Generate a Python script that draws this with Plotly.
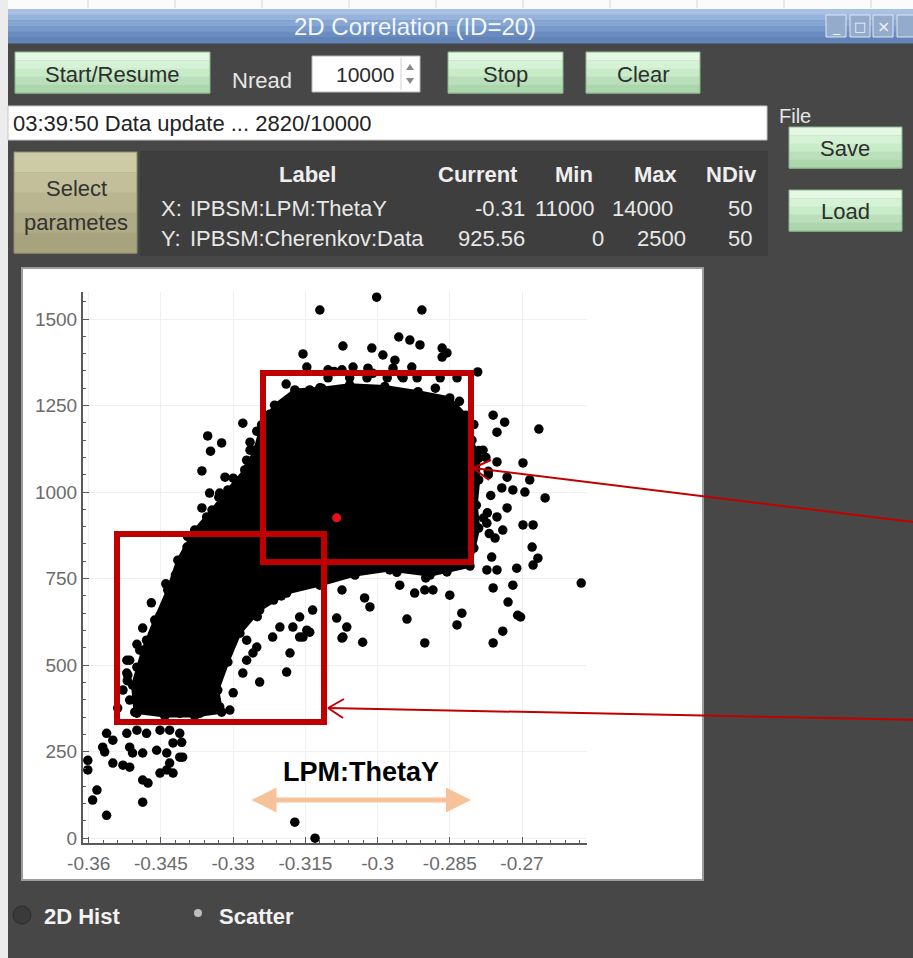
import plotly.graph_objects as go

# ---------------- data ----------------
# outline of the fully black (saturated) region of the scatter cloud
core_x = [-0.3504, -0.3509, -0.3488, -0.3463, -0.3436, -0.3415, -0.3380, -0.3344, -0.3311,
          -0.3276, -0.3255, -0.3241, -0.3214, -0.3172, -0.3116, -0.3058, -0.2985, -0.2916, -0.2850,
          -0.2817, -0.2804, -0.2790, -0.2790, -0.2795, -0.2790, -0.2800, -0.2808, -0.2891, -0.2975,
          -0.3047, -0.3120, -0.3189, -0.3245, -0.3286, -0.3311, -0.3332, -0.3324, -0.3380, -0.3442]
core_y = [364, 442, 543, 630, 717, 803, 890, 948, 1006,
          1064, 1121, 1194, 1251, 1295, 1300, 1310, 1305, 1290, 1272,
          1222, 1150, 1098, 1035, 962, 896, 838, 786, 760, 775,
          760, 731, 708, 659, 592, 509, 428, 364, 353, 353]

# individual (resolvable) scatter points
pts_x = [-0.3120, -0.3072, -0.3155, -0.3147, -0.3103, -0.3074, -0.3051, -0.3168, -0.3141, -0.3120,
         -0.3224, -0.3197, -0.3280, -0.3251, -0.3353, -0.3324, -0.3347, -0.3265, -0.3265, -0.3270,
         -0.3272, -0.3365, -0.3317, -0.3292, -0.3349, -0.3365, -0.3355, -0.3328, -0.3307, -0.3411,
         -0.3396, -0.3384,
         -0.3002, -0.2908, -0.3012, -0.2989, -0.2956, -0.2933, -0.2912, -0.2866, -0.2856, -0.2866,
         -0.2964, -0.2929, -0.2792, -0.2760, -0.2736, -0.2752, -0.2665, -0.2781, -0.2752, -0.2698,
         -0.2731, -0.2684, -0.2742, -0.2719, -0.2694, -0.2652, -0.2731, -0.2752, -0.2773, -0.2698,
         -0.2677, -0.2740, -0.2756, -0.2679, -0.2667, -0.2677, -0.2763, -0.2773, -0.2752, -0.2711,
         -0.2856, -0.2577,
         -0.2954, -0.2923, -0.2902, -0.2885, -0.2850, -0.2760, -0.2719, -0.2729, -0.2825, -0.2835,
         -0.2939, -0.2709, -0.2703, -0.2740, -0.2760, -0.2902, -0.3031, -0.3072, -0.3016, -0.3027,
         -0.3064,
         -0.3074, -0.3085, -0.3074, -0.3135, -0.3162, -0.3141, -0.3155, -0.3176, -0.3182, -0.3189,
         -0.3245, -0.3272, -0.3280, -0.3259, -0.3216,
         -0.3563, -0.3571, -0.3550, -0.3521, -0.3500, -0.3480, -0.3452, -0.3432, -0.3411, -0.3425,
         -0.3515, -0.3488, -0.3509, -0.3550, -0.3529, -0.3515, -0.3459, -0.3438, -0.3411, -0.3432,
         -0.3438, -0.3452, -0.3425, -0.3488, -0.3477, -0.3602, -0.3602, -0.3583, -0.3592, -0.3563,
         -0.3488, -0.3405, -0.3407, -0.3567, -0.3172, -0.3130,
         -0.3515, -0.3494, -0.3480, -0.3459, -0.3446, -0.3432, -0.3488, -0.3519, -0.3529, -0.3540,
         -0.3190, -0.3090, -0.3010, -0.2950, -0.2880, -0.2830, -0.2800, -0.2790, -0.2770, -0.2780,
         -0.3300, -0.3330, -0.3360, -0.3395, -0.3420, -0.3440, -0.3470, -0.3500, -0.3520, -0.3340,
         -0.3300, -0.3250, -0.3200, -0.2900, -0.2960,
         -0.3452, -0.3473, -0.3521, -0.3521, -0.3500, -0.3459, -0.3480, -0.3438, -0.3459, -0.3500,
         -0.3515, -0.3411, -0.3369, -0.3328, -0.3307, -0.3432, -0.3417, -0.3473, -0.3438, -0.3396,
         -0.3494, -0.3417, -0.3446, -0.3488, -0.3272, -0.3251, -0.3162, -0.3147, -0.3203, -0.3218,
         -0.3020, -0.2968, -0.3103, -0.3058, -0.3022, -0.2980, -0.2947, -0.2918, -0.2870, -0.2835,
         -0.2775, -0.2770, -0.2765, -0.2772, -0.2768]
pts_y = [1526, 1422, 1399, 1361, 1353, 1353, 1361, 1280, 1295, 1301,
         1225, 1228, 1199, 1176, 1162, 1142, 1118, 1144, 1121, 1069,
         1092, 1061, 1043, 1029, 997, 954, 928, 997, 977, 803,
         841, 853,
         1563, 1526, 1416, 1396, 1448, 1439, 1425, 1416, 1402, 1390,
         1381, 1361, 1347, 1222, 1202, 1173, 1182, 1121, 1087, 1084,
         1043, 1035, 1012, 1006, 1000, 983, 954, 928, 910, 905,
         905, 890, 867, 841, 809, 789, 812, 775, 775, 780,
         769, 737,
         731, 708, 717, 717, 702, 723, 731, 682, 650, 616,
         633, 644, 639, 598, 564, 564, 566, 581, 668, 694,
         610,
         717, 636, 578, 659, 639, 595, 581, 610, 535, 480,
         451, 514, 477, 535, 688,
         303, 263, 283, 303, 312, 303, 312, 312, 303, 275,
         263, 246, 246, 217, 211, 205, 254, 246, 234, 217,
         197, 188, 188, 168, 159, 225, 197, 139, 110, 66,
         104, 234, 277, 249, 46, 0,
         514, 543, 572, 601, 630, 659, 607, 471, 428, 376,
         1312, 1348, 1343, 1335, 1300, 1262, 1195, 1120, 1060, 925,
         1040, 985, 905, 872, 760, 735, 680, 560, 455, 400,
         420, 640, 700, 752, 768,
         644, 564, 514, 477, 494, 494, 436, 436, 379, 361,
         399, 361, 361, 379, 370, 564, 523, 399, 390, 399,
         407, 477, 523, 477, 572, 552, 581, 601, 610, 581,
         1358, 1358, 1330, 1330, 1330, 1330, 1330, 1330, 1330, 1330,
         1100, 1050, 990, 940, 880]

current_x = [-0.3085]
current_y = [925.56]

x_ticks = [-0.36, -0.345, -0.33, -0.315, -0.3, -0.285, -0.27]
x_tick_text = ["-0.36", "-0.345", "-0.33", "-0.315", "-0.3", "-0.285", "-0.27"]
y_ticks = [0, 250, 500, 750, 1000, 1250, 1500]
y_tick_text = ["0", "250", "500", "750", "1000", "1250", "1500"]

window_title = "2D Correlation (ID=20)"
status_text = "03:39:50 Data update ... 2820/10000"
nread_value = "10000"
table_header = ["Label", "Current", "Min", "Max", "NDiv"]
row_x = ["X:", "IPBSM:LPM:ThetaY", "-0.31", "11000", "14000", "50"]
row_y = ["Y:", "IPBSM:Cherenkov:Data", "925.56", "0", "2500", "50"]
axis_note = "LPM:ThetaY"

# ---------------- layout helpers (pixel -> paper) ----------------
W, H = 913, 958
GUI_FONT = "Liberation Sans"


def px(x):
    return x / W


def py(y):
    return 1 - y / H


shapes = []
annotations = []


def rect(x0, y0, x1, y1, fill, line=None, lw=0, layer="below"):
    shapes.append(dict(type="rect", xref="paper", yref="paper",
                       x0=px(x0), x1=px(x1), y0=py(y1), y1=py(y0),
                       fillcolor=fill, line=dict(color=line or fill, width=lw), layer=layer))


def circle(x0, y0, x1, y1, fill, line=None, lw=0, layer="below"):
    shapes.append(dict(type="circle", xref="paper", yref="paper",
                       x0=px(x0), x1=px(x1), y0=py(y1), y1=py(y0),
                       fillcolor=fill, line=dict(color=line or fill, width=lw), layer=layer))


def seg(x0, y0, x1, y1, color, w, layer="above"):
    shapes.append(dict(type="line", xref="paper", yref="paper",
                       x0=px(x0), y0=py(y0), x1=px(x1), y1=py(y1),
                       line=dict(color=color, width=w), layer=layer))


def text(x, y, s, size=22, color="#e8e8e8", xanchor="center", family=GUI_FONT, bold=False):
    annotations.append(dict(xref="paper", yref="paper", x=px(x), y=py(y),
                            text=("<b>%s</b>" % s if bold else s), showarrow=False,
                            xanchor=xanchor, yanchor="middle",
                            font=dict(size=size, color=color, family=family)))


def gradient_rect(x0, y0, x1, y1, colors, border=None, lw=1):
    n = len(colors)
    h = (y1 - y0) / n
    for i, c in enumerate(colors):
        rect(x0, y0 + i * h, x1, y0 + (i + 1) * h + 0.5, c)
    if border:
        rect(x0, y0, x1, y1, "rgba(0,0,0,0)", border, lw)


GREEN = ["#e4f8e4", "#d6f2d6", "#c8ecc8", "#badfba", "#acd6ac"]

# background spreadsheet strips
rect(0, 0, 913, 9, "#fbfbfb")
rect(0, 0, 8, 958, "#ececec")
for gx in [88, 175, 262, 349, 436, 523, 610, 697, 784, 871]:
    seg(gx, 0, gx, 8, "#d6d6d6", 1, layer="below")

# title bar
gradient_rect(8, 9, 913, 43, ["#a7c0e4", "#96b3dc", "#86a6d3", "#7698ca", "#6a8cc0", "#6284b9"])
text(415, 26, window_title, size=24, color="#f3f6fb")
for i, x0 in enumerate([826, 850, 873, 897]):
    rect(x0, 15, x0 + 20, 37, "#95abcb", "#dfe7f2", 1)
text(836, 27, "_", size=14, color="#eef2f8", family="DejaVu Sans")
text(860, 26, "□", size=13, color="#eef2f8", family="DejaVu Sans")
text(883, 26, "×", size=16, color="#eef2f8", family="DejaVu Sans")

# top button row
gradient_rect(15, 52, 210, 93, GREEN, "#8fb58f")
text(112, 74, "Start/Resume", size=22, color="#2e2e2e")
text(262, 80, "Nread", size=22, color="#e6e6e6")
rect(312, 56, 420, 92, "#ffffff", "#b8b8b8", 1)
text(396, 74, nread_value, size=21, color="#2a2a2a", xanchor="right")
seg(401, 58, 401, 90, "#d0d0d0", 1, layer="below")
shapes.append(dict(type="path", xref="paper", yref="paper", layer="below",
                   path="M %f,%f L %f,%f L %f,%f Z" % (px(406), py(70), px(414), py(70), px(410), py(64)),
                   fillcolor="#8a8a8a", line=dict(width=0)))
shapes.append(dict(type="path", xref="paper", yref="paper", layer="below",
                   path="M %f,%f L %f,%f L %f,%f Z" % (px(406), py(78), px(414), py(78), px(410), py(84)),
                   fillcolor="#8a8a8a", line=dict(width=0)))
gradient_rect(448, 52, 563, 93, GREEN, "#8fb58f")
text(505, 74, "Stop", size=22, color="#2e2e2e")
gradient_rect(586, 52, 700, 93, GREEN, "#8fb58f")
text(643, 74, "Clear", size=22, color="#2e2e2e")

# status line and file buttons
rect(8, 106, 767, 140, "#ffffff", "#c8c8c8", 1)
text(11, 124, status_text, size=22, color="#222222", xanchor="left")
text(777, 116, "File", size=20, color="#e6e6e6", xanchor="left")
gradient_rect(789, 127, 902, 168, GREEN, "#8fb58f")
text(845, 149, "Save", size=22, color="#2e2e2e")
gradient_rect(789, 190, 902, 231, GREEN, "#8fb58f")
text(845, 211, "Load", size=22, color="#2e2e2e")

# select parameters button and table
gradient_rect(14, 152, 137, 253, ["#cdcaa6", "#c2bf9a", "#b8b590", "#aeab86", "#a6a37e"], "#8e8b6c")
text(76, 188, "Select", size=22, color="#333333")
text(76, 222, "parametes", size=22, color="#333333")
rect(140, 151, 768, 256, "#3e3e3e")
for s, xc in zip(table_header, [307, 478, 574, 656, 731]):
    text(xc, 175, s, size=22, color="#eeeeee", bold=True)
for row, yc, rights in [(row_x, 208, [527, 597, 675, 754]), (row_y, 238, [527, 606, 688, 754])]:
    text(159, yc, row[0], size=22, color="#e8e8e8", xanchor="left")
    text(188, yc, row[1], size=22, color="#e8e8e8", xanchor="left")
    for s, xr in zip(row[2:], rights):
        text(xr, yc, s, size=22, color="#e8e8e8", xanchor="right")

# plot panel
rect(22, 268, 703, 880, "#ffffff", "#9c9c9c", 2)

# bottom radio buttons
circle(13, 906, 31, 924, "#3a3a3a", "#2c2c2c", 1)
text(42, 916, "2D Hist", size=22, color="#f2f2f2", xanchor="left", bold=True)
circle(194, 909, 202, 917, "#bdbdbd")
text(217, 916, "Scatter", size=22, color="#f2f2f2", xanchor="left", bold=True)

# overlay annotations (red boxes, arrows, LPM:ThetaY)
RED = "#c00000"
rect(263, 373, 471, 562, "rgba(0,0,0,0)", RED, 6, layer="above")
rect(117, 534, 324, 722, "rgba(0,0,0,0)", RED, 6, layer="above")
seg(930, 524, 473, 468, RED, 2)
seg(473, 468, 491, 460, RED, 2)
seg(473, 468, 489, 480, RED, 2)
seg(930, 720, 328, 708, RED, 2)
seg(328, 708, 344, 699, RED, 2)
seg(328, 708, 343, 718, RED, 2)

annotations.append(dict(xref="paper", yref="paper", axref="pixel", ayref="pixel",
                        x=px(471), y=py(800), ax=-221, ay=0, text="",
                        showarrow=True, arrowside="end+start", arrowhead=2,
                        arrowsize=1, arrowwidth=5, arrowcolor="#f7c29a", standoff=0,
                        startstandoff=0))
text(361, 772, axis_note, size=27, color="#000000", family="Liberation Sans", bold=True)

# ---------------- figure ----------------
fig = go.Figure()
fig.add_trace(go.Scatter(x=core_x + core_x[:1], y=core_y + core_y[:1], mode="lines+markers",
                         fill="toself", fillcolor="#000000",
                         line=dict(color="#000000", width=3),
                         marker=dict(size=9.5, color="#000000"),
                         hoverinfo="skip", showlegend=False, cliponaxis=False))
fig.add_trace(go.Scatter(x=pts_x, y=pts_y, mode="markers",
                         marker=dict(size=9.5, color="#000000"),
                         hoverinfo="skip", showlegend=False, cliponaxis=False))
fig.add_trace(go.Scatter(x=current_x, y=current_y, mode="markers",
                         marker=dict(size=9, color="#e8101c"),
                         hoverinfo="skip", showlegend=False, cliponaxis=False))

tickfont = dict(family="Liberation Sans", size=19, color="#6b6b6b")
fig.update_layout(
    width=W, height=H, autosize=False,
    margin=dict(l=0, r=0, t=0, b=0, pad=0, autoexpand=False),
    paper_bgcolor="#474747", plot_bgcolor="rgba(0,0,0,0)",
    shapes=shapes, annotations=annotations, showlegend=False,
    xaxis=dict(domain=[px(83), px(587)], range=[-0.3612, -0.2565], automargin=False,
               tickmode="array", tickvals=x_ticks, ticktext=x_tick_text,
               showgrid=True, gridcolor="#efefef", gridwidth=1, zeroline=False,
               showline=True, linecolor="#5a5a5a", linewidth=2,
               ticks="inside", ticklen=6, tickwidth=1, tickcolor="#5a5a5a",
               minor=dict(tick0=-0.36, dtick=0.003, ticks="inside", ticklen=3,
                          tickcolor="#5a5a5a", showgrid=False),
               tickfont=tickfont, ticklabelstandoff=2, fixedrange=True),
    yaxis=dict(domain=[py(843), py(292)], range=[-14, 1578], automargin=False,
               tickmode="array", tickvals=y_ticks, ticktext=y_tick_text,
               showgrid=True, gridcolor="#efefef", gridwidth=1, zeroline=False,
               showline=True, linecolor="#5a5a5a", linewidth=2,
               ticks="inside", ticklen=6, tickwidth=1, tickcolor="#5a5a5a",
               minor=dict(tick0=0, dtick=50, ticks="inside", ticklen=3,
                          tickcolor="#5a5a5a", showgrid=False),
               tickfont=tickfont, ticklabelstandoff=0, fixedrange=True),
)

fig.write_html("out.html", config={"displayModeBar": False},
               post_script="document.body.style.margin='0px';document.body.style.overflow='hidden';")
